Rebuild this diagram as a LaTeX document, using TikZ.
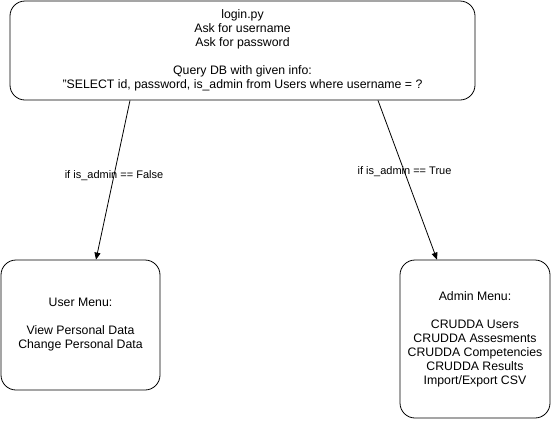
\documentclass[tikz,border=0pt]{standalone}
\usepackage{fontspec}
\setmainfont{Liberation Sans}
\usetikzlibrary{positioning, arrows.meta, calc}

\begin{document}
\begin{tikzpicture}[
        x=1pt, y=-1pt,
        box/.style={rectangle, draw, rounded corners=15pt, line width=0.8pt, align=center, font=\fontsize{12.3}{14}\selectfont, inner sep=0pt},
        flow/.style={-{Triangle[length=7pt, width=6pt]}, line width=0.8pt},
        every node/.style={font=\fontsize{11}{14}\selectfont}
      ]
      \useasboundingbox (0,0) rectangle (551,421);

      \node[box, minimum width=465pt, minimum height=99pt] (login) at (242.5, 50.5)
        {login.py\\Ask for username\\Ask for password\\[14pt]Query DB with given info:\\"SELECT id, password, is\_admin from Users where username = ?};
      \node[box, minimum width=159pt, minimum height=130pt] (user) at (80.5, 325)
        {User Menu:\\[14pt]View Personal Data\\Change Personal Data};
      \node[box, minimum width=150pt, minimum height=158pt] (admin) at (475, 339)
        {Admin Menu:\\[14pt]CRUDDA Users\\CRUDDA Assesments\\CRUDDA Competencies\\CRUDDA Results\\Import/Export CSV};

      \draw[flow] ([xshift=-112.5pt]login.south) -- node[pos=0.47] {if is\_admin == False} ([xshift=15.5pt]user.north);
      \draw[flow] ([xshift=135.5pt]login.south) -- node[pos=0.45] {if is\_admin == True} ([xshift=-38pt]admin.north);
    \end{tikzpicture}
\end{document}
